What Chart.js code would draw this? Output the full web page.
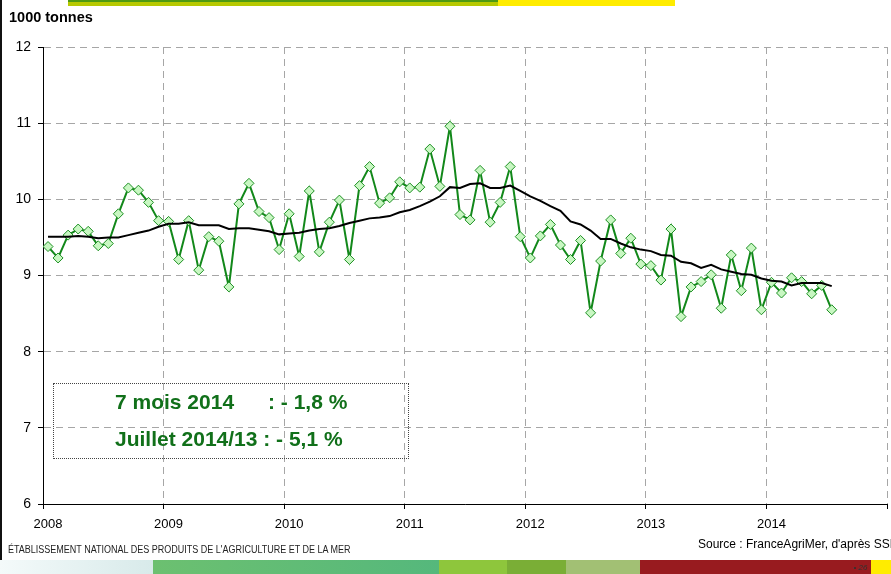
<!DOCTYPE html>
<html>
<head>
<meta charset="utf-8">
<script src="https://cdn.jsdelivr.net/npm/chart.js@4.4.1/dist/chart.umd.min.js"></script>
<style>
  html, body { margin: 0; padding: 0; background: #fff; overflow: hidden; }
  #wrap { position: relative; width: 891px; height: 574px; overflow: hidden; font-family: "Liberation Sans", Arial, sans-serif; }
  #chart { position: absolute; left: 0; top: 0; }
  .abs { position: absolute; white-space: nowrap; }
</style>
</head>
<body>
<div id="wrap">
  <canvas id="chart" width="895" height="574"></canvas>

  <!-- slide decorations -->
  <div class="abs" style="left:0;top:0;width:2px;height:560px;background:#111;"></div>
  <div class="abs" style="left:68px;top:0;width:430px;height:2px;background:#4f9a12;"></div>
  <div class="abs" style="left:68px;top:2px;width:430px;height:4px;background:#b7c900;"></div>
  <div class="abs" style="left:498px;top:0;width:177px;height:6px;background:#ffec00;"></div>

  <div class="abs" style="left:9px;top:9px;font-size:14.5px;font-weight:bold;color:#000;">1000 tonnes</div>

  <!-- summary box -->
  <div class="abs" style="left:53px;top:383px;width:354px;height:74px;border:1px dotted #444;"></div>
  <div class="abs" style="left:115px;top:390px;font-size:21px;font-weight:bold;color:#11701a;">7 mois 2014</div>
  <div class="abs" style="left:268px;top:390px;font-size:21px;font-weight:bold;color:#11701a;">: - 1,8 %</div>
  <div class="abs" style="left:115px;top:427px;font-size:21px;font-weight:bold;color:#11701a;">Juillet 2014/13 : - 5,1 %</div>

  <!-- footer -->
  <div class="abs" style="left:698px;top:537px;font-size:12px;color:#000;">Source : FranceAgriMer, d'après SSP</div>
  <div class="abs" style="left:8px;top:544px;font-size:10px;color:#222;transform:scaleX(0.9);transform-origin:left top;">ÉTABLISSEMENT NATIONAL DES PRODUITS DE L'AGRICULTURE ET DE LA MER</div>

  <div class="abs" style="left:0;top:560px;width:153px;height:14px;background:linear-gradient(to right,#f4fafa,#d8eaea);"></div>
  <div class="abs" style="left:153px;top:560px;width:286px;height:14px;background:linear-gradient(to right,#6cc070,#55b87c);"></div>
  <div class="abs" style="left:439px;top:560px;width:68px;height:14px;background:#8ec63c;"></div>
  <div class="abs" style="left:507px;top:560px;width:59px;height:14px;background:#7aae36;"></div>
  <div class="abs" style="left:566px;top:560px;width:74px;height:14px;background:#a2c074;"></div>
  <div class="abs" style="left:640px;top:560px;width:231px;height:14px;background:#981b1f;"></div>
  <div class="abs" style="left:871px;top:560px;width:20px;height:14px;background:#ffec00;"></div>
  <div class="abs" style="left:853px;top:563px;font-size:8px;font-style:italic;color:#333;">• 26</div>
</div>

<script>
  // year labels on the x axis
  const years = ['2008', '2009', '2010', '2011', '2012', '2013', '2014'];

  // monthly volumes, Jan 2008 -> Jul 2014 (1000 t)
  const monthly = [
    9.38, 9.23, 9.53, 9.61, 9.58, 9.39, 9.42, 9.81, 10.15, 10.12, 9.96, 9.72,
    9.71, 9.21, 9.72, 9.07, 9.51, 9.45, 8.85, 9.94, 10.21, 9.84, 9.76, 9.34,
    9.81, 9.25, 10.11, 9.31, 9.70, 9.99, 9.21, 10.18, 10.43, 9.95, 10.02, 10.23,
    10.15, 10.16, 10.66, 10.17, 10.96, 9.80, 9.73, 10.38, 9.70, 9.96, 10.43, 9.51,
    9.23, 9.52, 9.67, 9.40, 9.21, 9.46, 8.51, 9.19, 9.73, 9.29, 9.49, 9.15,
    9.13, 8.94, 9.61, 8.46, 8.85, 8.92, 9.01, 8.57, 9.27, 8.80, 9.36, 8.55,
    8.91, 8.77, 8.97, 8.92, 8.76, 8.87, 8.55
  ];

  // 12-month moving average
  const movingAvg = [
    9.51, 9.51, 9.51, 9.52, 9.51, 9.49, 9.50, 9.50, 9.53, 9.56, 9.59, 9.64,
    9.68, 9.68, 9.70, 9.66, 9.66, 9.66, 9.61, 9.62, 9.62, 9.60, 9.58, 9.54,
    9.55, 9.56, 9.59, 9.61, 9.62, 9.65, 9.69, 9.72, 9.75, 9.76, 9.78, 9.83,
    9.86, 9.91, 9.97, 10.04, 10.16, 10.15, 10.20, 10.21, 10.15, 10.15, 10.18, 10.11,
    10.04, 9.98, 9.91, 9.85, 9.71, 9.67, 9.59, 9.48, 9.48, 9.42, 9.37, 9.34,
    9.32, 9.27, 9.26, 9.18, 9.16, 9.10, 9.14, 9.08, 9.05, 9.02, 9.01, 8.96,
    8.93, 8.92, 8.87, 8.90, 8.90, 8.90, 8.86
  ];

  // each month sits in the middle of its slot
  const toPoints = arr => arr.map((v, i) => ({ x: i + 0.5, y: v }));

  new Chart(document.getElementById('chart'), {
    type: 'line',
    data: {
      datasets: [
        {
          label: 'Moyenne mobile',
          data: toPoints(movingAvg),
          borderColor: '#000',
          borderWidth: 2,
          pointRadius: 0,
          tension: 0,
          order: 0
        },
        {
          label: 'Mensuel',
          data: toPoints(monthly),
          borderColor: '#12881a',
          borderWidth: 2,
          pointStyle: 'rectRot',
          pointRadius: 5,
          pointBackgroundColor: '#c8f7c2',
          pointBorderColor: '#1c8f22',
          pointBorderWidth: 1,
          tension: 0,
          order: 1
        }
      ]
    },
    options: {
      responsive: false,
      animation: false,
      layout: { padding: { top: 47, right: 3, left: 0, bottom: 0 } },
      plugins: {
        legend: { display: false },
        tooltip: { enabled: false }
      },
      scales: {
        x: {
          type: 'linear',
          min: 0,
          max: 84,
          afterFit: s => { s.height = 70; },
          ticks: {
            stepSize: 12,
            autoSkip: false,
            maxRotation: 0,
            labelOffset: 5,
            padding: 8,
            color: '#000',
            font: { family: '"Liberation Sans", Arial, sans-serif', size: 13 },
            callback: v => years[v / 12] || ''
          },
          grid: {
            color: '#a6a6a6',
            tickColor: '#000',
            tickLength: 5
          },
          border: { display: true, color: '#000', width: 1, dash: [7, 5] }
        },
        y: {
          min: 6,
          max: 12,
          afterFit: s => { s.width = 43; },
          ticks: {
            stepSize: 1,
            padding: 7,
            color: '#000',
            font: { family: '"Liberation Sans", Arial, sans-serif', size: 14 }
          },
          grid: {
            color: '#a6a6a6',
            tickColor: '#000',
            tickLength: 5
          },
          border: { display: true, color: '#000', width: 1, dash: [7, 5] }
        }
      }
    }
  });
</script>
</body>
</html>
